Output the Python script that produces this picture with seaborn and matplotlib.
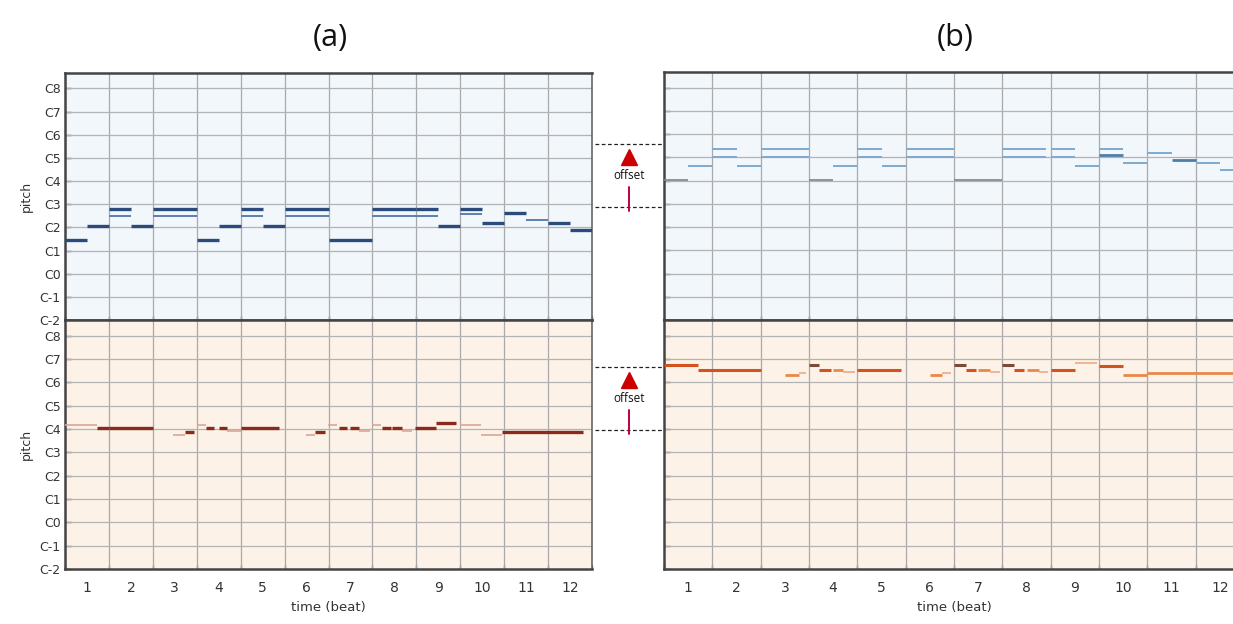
#%% Packages
import numpy as np
import pandas as pd
import matplotlib
matplotlib.use("Agg")
import matplotlib.pyplot as plt
import seaborn as sns
from matplotlib.transforms import blended_transform_factory

#%% Data
beat_labels = [str(b) for b in range(1, 13)]
octave_labels = ["C-2", "C-1", "C0", "C1", "C2", "C3", "C4", "C5", "C6", "C7", "C8"]
octave_pitch = [0, 12, 24, 36, 48, 60, 72, 84, 96, 108, 120]

# (a) top - melody, shade 0 = dark, 1 = light
a_top_start = [0, 0.5, 1, 1, 1.5, 2, 2, 3, 3.5, 4, 4, 4.5, 5, 5, 6, 7, 7, 8, 8, 8.5, 9, 9, 9.5, 10, 10.5, 11, 11.5]
a_top_end = [0.5, 1, 1.5, 1.5, 2, 3, 3, 3.5, 4, 4.5, 4.5, 5, 6, 6, 7, 8, 8, 8.5, 8.5, 9, 9.5, 9.5, 10, 10.5, 11, 11.5, 12]
a_top_pitch = [41.6, 48.6, 57.7, 54, 48.6, 57.7, 54, 41.6, 48.6, 57.7, 54, 48.6, 57.7, 54, 41.6, 57.7, 54,
               57.7, 54, 48.6, 57.7, 55, 50.5, 55.4, 51.7, 50.5, 46.4]
a_top_shade = [0, 0, 0, 1, 0, 0, 1, 0, 0, 0, 1, 0, 0, 1, 0, 0, 1, 0, 1, 0, 0, 1, 0, 0, 1, 0, 0]

# (b) top - shifted melody
b_top_start = [0, 0.5, 1, 1, 1.5, 2, 2, 3, 3.5, 4, 4, 4.5, 5, 5, 6, 7, 7, 8, 8, 8.5, 9, 9, 9.5, 10, 10.5, 11, 11.5]
b_top_end = [0.5, 1, 1.5, 1.5, 2, 3, 3, 3.5, 4, 4.5, 4.5, 5, 6, 6, 7, 7.9, 7.9, 8.5, 8.5, 9, 9.5, 9.5, 10, 10.5, 11, 11.5, 12]
b_top_pitch = [72.5, 79.3, 88.4, 84.1, 79.3, 88.4, 84.1, 72.5, 79.3, 88.4, 84.1, 79.3, 88.4, 84.1, 72.5, 88.4, 84.1,
               88.4, 84.1, 79.3, 88.4, 85, 81.2, 86.2, 82.4, 81.2, 77.3]
b_top_shade = [2, 1, 1, 1, 1, 1, 1, 2, 1, 1, 1, 1, 1, 1, 2, 1, 1, 1, 1, 1, 1, 0, 1, 1, 0, 1, 1]

# (a) bottom - accompaniment
a_bot_start = [0, 0.73, 1, 2.45, 2.73, 3, 3.2, 3.5, 3.7, 4, 5.48, 5.7, 5.98, 6.23, 6.5, 6.7, 7, 7.22, 7.45, 7.68,
               7.98, 8.45, 9, 9.48, 9.95]
a_bot_end = [0.73, 1, 2, 2.73, 2.93, 3.2, 3.4, 3.7, 4, 4.87, 5.7, 5.93, 6.2, 6.43, 6.7, 6.95, 7.2, 7.43, 7.68, 7.9,
             8.45, 8.9, 9.48, 9.95, 11.8]
a_bot_pitch = [74.2, 72.3, 72.3, 69, 70.2, 74.2, 72.3, 72.3, 71, 72.3, 69, 70.2, 74.2, 72.3, 72.3, 71, 74.2, 72.3,
               72.3, 71, 72.3, 75, 74.2, 69, 70.2]
a_bot_shade = [1, 0, 0, 1, 0, 1, 0, 0, 1, 0, 1, 0, 1, 0, 0, 1, 1, 0, 0, 1, 0, 0, 1, 1, 0]

# (b) bottom - shifted accompaniment
b_bot_start = [0, 0.7, 2.5, 2.8, 3, 3.2, 3.5, 3.7, 4, 5.5, 5.75, 6, 6.25, 6.5, 6.75, 7, 7.25, 7.5, 7.75, 8, 8.5,
               9, 9.5, 10]
b_bot_end = [0.7, 2, 2.8, 2.93, 3.2, 3.45, 3.7, 3.95, 4.9, 5.75, 5.93, 6.25, 6.45, 6.75, 6.95, 7.25, 7.45, 7.75,
             7.95, 8.5, 8.95, 9.5, 10, 12]
b_bot_pitch = [104.9, 102.3, 99.7, 100.6, 104.9, 102.3, 102.3, 101.5, 102.3, 99.7, 100.6, 104.9, 102.3, 102.3,
               101.1, 104.9, 102.3, 102.3, 101.1, 102.3, 105.7, 104.5, 99.7, 100.8]
b_bot_shade = [0, 0, 1, 2, 3, 0, 1, 2, 0, 1, 2, 3, 0, 1, 2, 3, 0, 1, 2, 0, 2, 0, 1, 1]

# offset markers: (lower pitch, upper pitch) per row
offset_low = [58.2, 71.5]
offset_high = [90.6, 104.0]

#%% Style
sns.set_theme(style="ticks")
plt.rcParams['font.family'] = ['DejaVu Sans']

W, H = 1233, 624
fig = plt.figure(figsize=(W / 100, H / 100), dpi=100)


def px_axes(l, t, r, b):
    return fig.add_axes([l / W, 1 - b / H, (r - l) / W, (b - t) / H])


panels = [
    # left, top, right, bottom, data, bg, colours, widths, is_left, is_bottom
    ((65, 73, 592, 320), (a_top_start, a_top_end, a_top_pitch, a_top_shade), "#f2f7fc",
     ["#2b4b7b", "#5b80ae"], [2.4, 1.4], True, False),
    ((65, 320, 592, 569), (a_bot_start, a_bot_end, a_bot_pitch, a_bot_shade), "#fdf2e7",
     ["#8a2a1c", "#d9a696"], [2.4, 1.2], True, True),
    ((664, 72, 1244, 320), (b_top_start, b_top_end, b_top_pitch, b_top_shade), "#f2f7fc",
     ["#4f7ea8", "#7eaad0", "#7d858c"], [2.0, 1.4, 1.2], False, False),
    ((664, 320, 1244, 569), (b_bot_start, b_bot_end, b_bot_pitch, b_bot_shade), "#fdf2e7",
     ["#d4521c", "#e8894c", "#f0b495", "#7a4a3c"], [2.2, 2.0, 1.4, 2.2], False, True),
]

axes = []
for rect, (st, en, pi, sh), bg, cols, lws, is_left, is_bottom in panels:
    ax = px_axes(*rect)
    notes = pd.DataFrame({"start": st, "end": en, "pitch": pi, "shade": sh})
    ax.set_facecolor(bg)
    ax.set_xlim(0, 12)
    ax.set_ylim(0, 128)
    # grid
    for x in range(1, 12):
        ax.axvline(x, color="#a9a9a9", lw=0.9, zorder=1)
    for y in octave_pitch[1:]:
        ax.axhline(y, color="#b3b3b3", lw=0.9, zorder=1)
    # notes
    for _, n in notes.iterrows():
        s = int(n["shade"])
        ax.hlines(n["pitch"], n["start"], n["end"], color=cols[s], lw=lws[s], zorder=3)
    # y ticks
    ax.set_yticks(octave_pitch)
    if is_left:
        ax.set_yticklabels(octave_labels, fontsize=9, color="#333333")
        ax.set_ylabel("pitch", fontsize=9, color="#333333", labelpad=5)
    else:
        ax.set_yticklabels([])
    ax.tick_params(axis="y", direction="in", length=4, width=1, color="#555555", pad=3)
    # x ticks
    ax.set_xticks(range(0, 13))
    ax.set_xticklabels([])
    ax.set_xticks(np.arange(0.5, 12, 1), minor=True)
    if is_bottom:
        ax.set_xticklabels(beat_labels, minor=True, fontsize=10, color="#333333")
        ax.set_xlabel("time (beat)", fontsize=9.5, color="#333333", labelpad=4)
    else:
        ax.set_xticklabels([], minor=True)
    ax.tick_params(axis="x", which="major", direction="in", length=3, width=1, color="#555555")
    ax.tick_params(axis="x", which="minor", length=0, pad=9)
    for side in ["left", "bottom", "top"]:
        ax.spines[side].set_color("#444444")
        ax.spines[side].set_linewidth(1.8)
    ax.spines["right"].set_color("#666666")
    ax.spines["right"].set_linewidth(1.2)
    axes.append(ax)

#%% Titles
title_font = ["Open Sans", "DejaVu Sans"]
fig.text(330 / W, 1 - 38 / H, "(a)", ha="center", va="center", fontsize=22, family=title_font, color="#111111")
fig.text(955 / W, 1 - 38 / H, "(b)", ha="center", va="center", fontsize=22, family=title_font, color="#111111")

#%% Offset annotations
x0, x1, xm = 595 / W, 662 / W, 629 / W
for ax, lo, hi in zip([axes[2], axes[3]], offset_low, offset_high):
    tr = blended_transform_factory(fig.transFigure, ax.transData)
    for y in (lo, hi):
        ax.plot([x0, x1], [y, y], transform=tr, color="#222222", lw=0.9, ls=(0, (3, 2)), clip_on=False)
    mid = (lo + hi) / 2
    ax.plot([xm], [mid + 9.5], transform=tr, marker="^", markersize=12, color="#cc0000", clip_on=False)
    ax.text(xm, mid, "offset", transform=tr, ha="center", va="center", fontsize=8.5,
            family=title_font, color="#111111")
    ax.plot([xm, xm], [mid - 6, lo - 2], transform=tr, color="#c0003a", lw=1.4, clip_on=False)

fig.savefig("out.png", dpi=100)
